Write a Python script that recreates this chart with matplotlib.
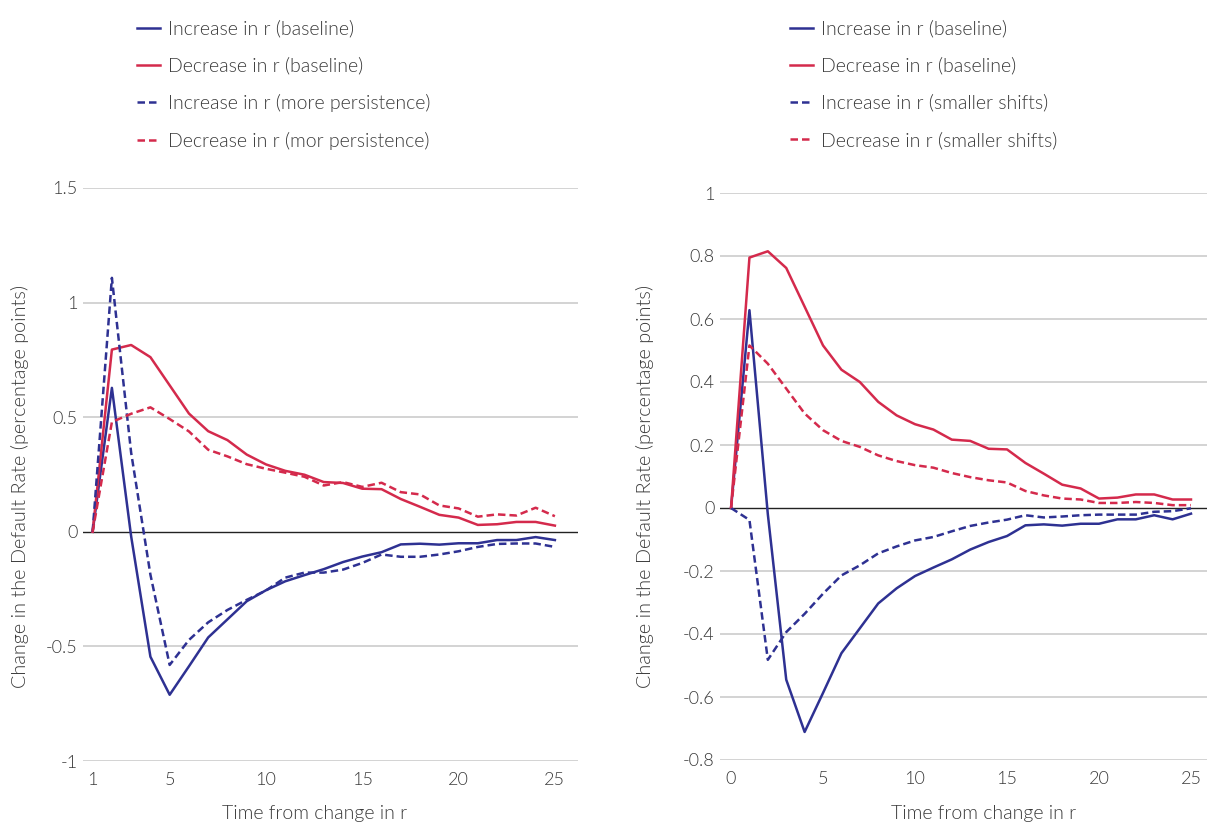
import matplotlib.pyplot as plt
from matplotlib.lines import Line2D

# colours and fonts
BLUE = '#2e3192'
RED = '#d42a4c'
TEXT = '#3a3a3a'
plt.rcParams['font.family'] = ['Lato', 'DejaVu Sans']
plt.rcParams['font.weight'] = 300

# baseline responses, t = 0..25 (left panel shows them as periods 1..25)
base_inc = [0, 0.628, -0.02, -0.545, -0.711, -0.587, -0.461, -0.382, -0.303, -0.255,
            -0.216, -0.189, -0.163, -0.132, -0.108, -0.089, -0.055, -0.052, -0.056,
            -0.050, -0.050, -0.036, -0.036, -0.023, -0.036, -0.018]
base_dec = [0, 0.795, 0.815, 0.762, 0.639, 0.516, 0.439, 0.400, 0.337, 0.294,
            0.266, 0.249, 0.217, 0.213, 0.188, 0.186, 0.143, 0.109, 0.074,
            0.062, 0.030, 0.033, 0.043, 0.043, 0.027, 0.027]

# more persistence (left panel, periods 1..25)
persist_inc = [0, 1.108, 0.345, -0.187, -0.581, -0.472, -0.395, -0.341, -0.297, -0.256,
               -0.200, -0.178, -0.178, -0.165, -0.136, -0.099, -0.109, -0.109, -0.099,
               -0.085, -0.066, -0.053, -0.051, -0.051, -0.066]
persist_dec = [0, 0.479, 0.515, 0.543, 0.492, 0.438, 0.358, 0.329, 0.295, 0.275,
               0.258, 0.240, 0.202, 0.217, 0.196, 0.214, 0.173, 0.163, 0.115,
               0.102, 0.066, 0.076, 0.071, 0.105, 0.068]

# smaller shifts (right panel, t = 0..25)
small_inc = [0, -0.038, -0.482, -0.394, -0.336, -0.272, -0.214, -0.182, -0.144, -0.122,
             -0.103, -0.092, -0.074, -0.057, -0.046, -0.037, -0.023, -0.030, -0.027,
             -0.023, -0.021, -0.021, -0.021, -0.012, -0.010, -0.001]
small_dec = [0, 0.516, 0.458, 0.379, 0.300, 0.247, 0.213, 0.194, 0.167, 0.149,
             0.136, 0.128, 0.111, 0.098, 0.088, 0.081, 0.054, 0.040, 0.030,
             0.027, 0.016, 0.016, 0.019, 0.016, 0.009, 0.009]

left_x = list(range(1, 26))
right_x = list(range(0, 26))
left_xticks = [1, 5, 10, 15, 20, 25]
right_xticks = [0, 5, 10, 15, 20, 25]
left_yticks = [-1, -0.5, 0, 0.5, 1, 1.5]
right_yticks = [-0.8, -0.6, -0.4, -0.2, 0, 0.2, 0.4, 0.6, 0.8, 1]

left_labels = ['Increase in r (baseline)', 'Decrease in r (baseline)',
               'Increase in r (more persistence)', 'Decrease in r (mor persistence)']
right_labels = ['Increase in r (baseline)', 'Decrease in r (baseline)',
                'Increase in r (smaller shifts)', 'Decrease in r (smaller shifts)']

W, H = 1207, 825
fig = plt.figure(figsize=(W / 100, H / 100), dpi=100)

LW = 1.8
DASH = (3.0, 1.6)
FS = 14


def setup(ax, xlim, ylim, xticks, yticks):
    ax.set_xlim(*xlim)
    ax.set_ylim(*ylim)
    for s in ax.spines.values():
        s.set_visible(False)
    for y in yticks:
        if y == 0:
            continue
        ax.axhline(y, color='#c8c8c8', lw=1.1, zorder=0)
    ax.axhline(0, color='#222222', lw=1.0, zorder=1)
    ax.set_xticks(xticks)
    ax.set_xticklabels(['%g' % v for v in xticks])
    ax.set_yticks(yticks)
    ax.set_yticklabels(['%g' % v for v in yticks])
    ax.tick_params(length=0, labelsize=13, colors=TEXT)
    ax.tick_params(axis='y', pad=4)
    ax.tick_params(axis='x', pad=8)


# left panel
ax1 = fig.add_axes([83 / W, (H - 761) / H, 495 / W, 573 / H])
setup(ax1, (0.5, 26.2), (-1, 1.5), left_xticks, left_yticks)
ax1.plot(left_x, base_inc[:25], color=BLUE, lw=LW)
ax1.plot(left_x, base_dec[:25], color=RED, lw=LW)
ax1.plot(left_x, persist_inc, color=BLUE, lw=LW, dashes=DASH)
ax1.plot(left_x, persist_dec, color=RED, lw=LW, dashes=DASH)

# right panel
ax2 = fig.add_axes([720 / W, (H - 760) / H, 487 / W, 567 / H])
setup(ax2, (-0.6, 25.87), (-0.8, 1.0), right_xticks, right_yticks)
ax2.plot(right_x, base_inc, color=BLUE, lw=LW)
ax2.plot(right_x, base_dec, color=RED, lw=LW)
ax2.plot(right_x, small_inc, color=BLUE, lw=LW, dashes=DASH)
ax2.plot(right_x, small_dec, color=RED, lw=LW, dashes=DASH)

# legends
handles = [Line2D([], [], color=BLUE, lw=LW), Line2D([], [], color=RED, lw=LW),
           Line2D([], [], color=BLUE, lw=LW, dashes=DASH),
           Line2D([], [], color=RED, lw=LW, dashes=DASH)]
for labels, x0 in ((left_labels, 129), (right_labels, 782)):
    leg = fig.legend(handles, labels, loc='upper left', bbox_to_anchor=(x0 / W, 1 - 12 / H),
                     frameon=False, fontsize=FS, handlelength=1.18, handletextpad=0.42,
                     labelspacing=1.0, borderaxespad=0)
    for t in leg.get_texts():
        t.set_color(TEXT)

# axis titles
ylab = 'Change in the Default Rate (percentage points)'
fig.text(20 / W, 1 - 486 / H, ylab, rotation=90, ha='center', va='center',
         fontsize=14.3, color=TEXT)
fig.text(645 / W, 1 - 486 / H, ylab, rotation=90, ha='center', va='center',
         fontsize=14.3, color=TEXT)
fig.text(315 / W, 1 - 805 / H, 'Time from change in r', ha='center', va='top',
         fontsize=FS, color=TEXT)
fig.text(984 / W, 1 - 805 / H, 'Time from change in r', ha='center', va='top',
         fontsize=FS, color=TEXT)

fig.savefig('out.png', dpi=100)
